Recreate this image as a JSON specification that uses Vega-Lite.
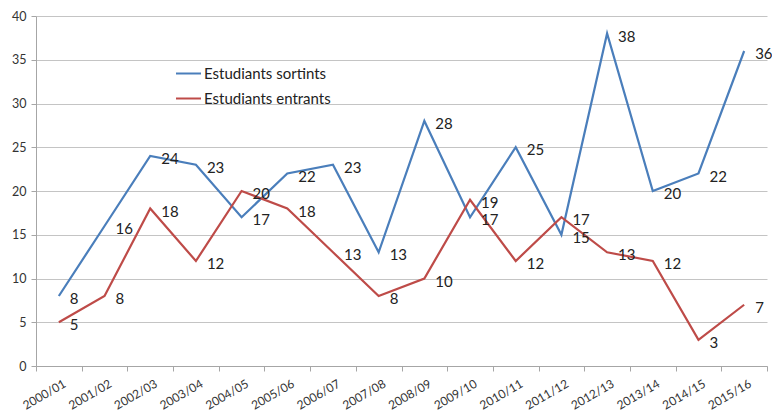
{
  "$schema": "https://vega.github.io/schema/vega-lite/v6.json",
  "width": 731,
  "height": 350,
  "autosize": "none",
  "padding": {"left": 36, "top": 16, "right": 5, "bottom": 45},
  "background": "white",
  "config": {"view": {"stroke": null}, "font": "Lato"},
  "data": {
    "values": [
      {"year": "2000/01", "series": "Estudiants sortints", "value": 8},
      {"year": "2001/02", "series": "Estudiants sortints", "value": 16},
      {"year": "2002/03", "series": "Estudiants sortints", "value": 24},
      {"year": "2003/04", "series": "Estudiants sortints", "value": 23},
      {"year": "2004/05", "series": "Estudiants sortints", "value": 17},
      {"year": "2005/06", "series": "Estudiants sortints", "value": 22},
      {"year": "2006/07", "series": "Estudiants sortints", "value": 23},
      {"year": "2007/08", "series": "Estudiants sortints", "value": 13},
      {"year": "2008/09", "series": "Estudiants sortints", "value": 28},
      {"year": "2009/10", "series": "Estudiants sortints", "value": 17},
      {"year": "2010/11", "series": "Estudiants sortints", "value": 25},
      {"year": "2011/12", "series": "Estudiants sortints", "value": 15},
      {"year": "2012/13", "series": "Estudiants sortints", "value": 38},
      {"year": "2013/14", "series": "Estudiants sortints", "value": 20},
      {"year": "2014/15", "series": "Estudiants sortints", "value": 22},
      {"year": "2015/16", "series": "Estudiants sortints", "value": 36},
      {"year": "2000/01", "series": "Estudiants entrants", "value": 5},
      {"year": "2001/02", "series": "Estudiants entrants", "value": 8},
      {"year": "2002/03", "series": "Estudiants entrants", "value": 18},
      {"year": "2003/04", "series": "Estudiants entrants", "value": 12},
      {"year": "2004/05", "series": "Estudiants entrants", "value": 20},
      {"year": "2005/06", "series": "Estudiants entrants", "value": 18},
      {"year": "2006/07", "series": "Estudiants entrants", "value": 13},
      {"year": "2007/08", "series": "Estudiants entrants", "value": 8},
      {"year": "2008/09", "series": "Estudiants entrants", "value": 10},
      {"year": "2009/10", "series": "Estudiants entrants", "value": 19},
      {"year": "2010/11", "series": "Estudiants entrants", "value": 12},
      {"year": "2011/12", "series": "Estudiants entrants", "value": 17},
      {"year": "2012/13", "series": "Estudiants entrants", "value": 13},
      {"year": "2013/14", "series": "Estudiants entrants", "value": 12},
      {"year": "2014/15", "series": "Estudiants entrants", "value": 3},
      {"year": "2015/16", "series": "Estudiants entrants", "value": 7}
    ]
  },
  "encoding": {
    "x": {
      "field": "year",
      "type": "ordinal",
      "bandPosition": 0.5,
      "scale": {"type": "band", "paddingInner": 0, "paddingOuter": 0},
      "axis": {
        "title": null,
        "labelAngle": -30,
        "labelAlign": "right",
        "labelBaseline": "top",
        "labelFontSize": 12,
        "labelColor": "#333333",
        "labelPadding": 7,
        "labelOffset": 3,
        "tickBand": "extent",
        "tickColor": "#a6a6a6",
        "tickSize": 5,
        "domainColor": "#a6a6a6",
        "grid": false
      }
    },
    "y": {
      "field": "value",
      "type": "quantitative",
      "scale": {"domain": [0, 40], "nice": false, "zero": true},
      "axis": {
        "title": null,
        "values": [0, 5, 10, 15, 20, 25, 30, 35, 40],
        "labelFontSize": 12.5,
        "labelColor": "#333333",
        "labelPadding": 5,
        "tickColor": "#a6a6a6",
        "tickSize": 5,
        "domainColor": "#a6a6a6",
        "gridColor": "#c4c4c4",
        "grid": true
      }
    }
  },
  "layer": [
    {
      "mark": {"type": "line", "strokeWidth": 2.2},
      "encoding": {
        "color": {
          "field": "series",
          "type": "nominal",
          "sort": ["Estudiants sortints", "Estudiants entrants"],
          "scale": {"domain": ["Estudiants sortints", "Estudiants entrants"], "range": ["#4a7ebb", "#be4b48"]},
          "legend": {
            "title": null,
            "orient": "none",
            "legendX": 139,
            "legendY": 44,
            "symbolType": "stroke",
            "symbolSize": 625,
            "symbolStrokeWidth": 2,
            "labelFontSize": 15,
            "labelColor": "#222222",
            "labelOffset": 2,
            "rowPadding": 3
          }
        }
      }
    },
    {
      "mark": {"type": "text", "align": "left", "baseline": "middle", "dx": 11, "dy": 3, "fontSize": 15, "color": "#222222"},
      "encoding": {
        "text": {"field": "value", "type": "quantitative"}
      }
    }
  ]
}
